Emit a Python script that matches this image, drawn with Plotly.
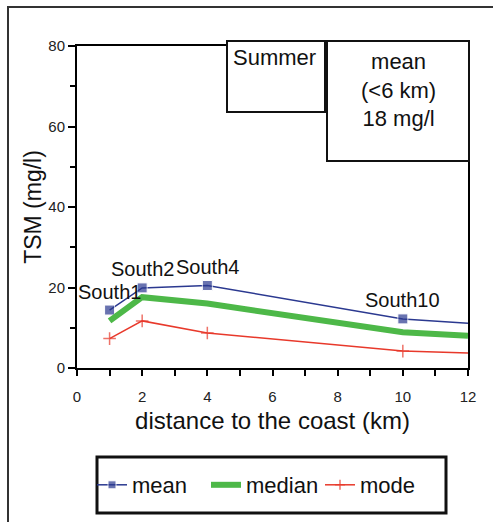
import plotly.graph_objects as go

# ---- data ----
distance = [1, 2, 4, 10, 12]
mean_vals = [14.4, 19.9, 20.5, 12.2, 11.1]
median_vals = [11.7, 17.6, 16.0, 8.9, 8.0]
mode_vals = [7.3, 11.7, 8.7, 4.2, 3.7]
station_x = [1, 2, 4, 10]
station_y = [14.4, 19.9, 20.5, 12.2]
station_labels = ["South1", "South2", "South4", "South10"]
x_ticks = [0, 2, 4, 6, 8, 10, 12]
y_ticks = [0, 20, 40, 60, 80]

W, H = 493, 522
L, R, T, B = 77, 25, 46, 154
PW, PH = W - L - R, H - T - B


def px(x):
    return (x - L) / PW


def py(y):
    return (H - B - y) / PH


FONT = "Liberation Sans, Arial, sans-serif"
BLUE = "#2B3990"
GREEN = "#4DB848"
RED = "#E8392B"

fig = go.Figure()
fig.add_trace(go.Scatter(
    x=distance, y=mean_vals, name="mean", mode="lines+markers",
    line=dict(color=BLUE, width=1.5),
    marker=dict(symbol="square", size=[10, 10, 10, 10, 0], color=BLUE),
))
fig.add_trace(go.Scatter(
    x=distance, y=median_vals, name="median", mode="lines",
    line=dict(color=GREEN, width=6),
))
fig.add_trace(go.Scatter(
    x=distance, y=mode_vals, name="mode", mode="lines+markers",
    line=dict(color=RED, width=1.5),
    marker=dict(symbol="cross-thin", size=[9, 9, 9, 9, 0],
                line=dict(color=RED, width=1.5)),
))

shifts = [(0, 18), (0, 19), (0, 18), (0, 19)]
for sx, sy, lab, (dx, dy) in zip(station_x, station_y, station_labels, shifts):
    fig.add_annotation(x=sx, y=sy, xref="x", yref="y", text=lab, showarrow=False,
                       xanchor="center", yanchor="middle", xshift=dx, yshift=dy,
                       font=dict(family=FONT, size=20, color="#111"))

shapes = [
    # outer frame
    dict(type="rect", xref="paper", yref="paper", x0=px(8), x1=px(530), y0=py(540), y1=py(7),
         line=dict(color="#333", width=2), fillcolor="rgba(0,0,0,0)", layer="below"),
    # Summer box
    dict(type="rect", xref="paper", yref="paper", x0=px(227), x1=px(325), y0=py(112), y1=py(41),
         line=dict(color="#111", width=2), fillcolor="white", layer="above"),
    # mean box
    dict(type="rect", xref="paper", yref="paper", x0=px(327), x1=px(469), y0=py(161), y1=py(41),
         line=dict(color="#111", width=2), fillcolor="white", layer="above"),
    # legend box
    dict(type="rect", xref="paper", yref="paper", x0=px(97), x1=px(446), y0=py(513), y1=py(457),
         line=dict(color="#111", width=3), fillcolor="rgba(0,0,0,0)", layer="above"),
]

fig.add_annotation(x=px(231), y=py(58), xref="paper", yref="paper", text="Summer",
                   showarrow=False, xanchor="left", yanchor="middle",
                   font=dict(family=FONT, size=22, color="#111"))
fig.add_annotation(x=px(398), y=py(90), xref="paper", yref="paper",
                   text="mean<br>(<6 km)<br>18 mg/l", showarrow=False,
                   xanchor="center", yanchor="middle", align="center",
                   font=dict(family=FONT, size=22, color="#111"))

fig.update_layout(
    width=W, height=H, margin=dict(l=L, r=R, t=T, b=B, autoexpand=False),
    paper_bgcolor="white", plot_bgcolor="white",
    shapes=shapes,
    showlegend=True,
    legend=dict(orientation="h", x=px(92), y=py(485), xanchor="left", yanchor="middle",
                font=dict(family=FONT, size=22, color="#111"), bgcolor="rgba(0,0,0,0)",
                entrywidth=69, entrywidthmode="pixels", itemwidth=30),
    xaxis=dict(range=[0, 12], tickvals=x_ticks, showline=True, linecolor="black", linewidth=2,
               mirror=True, ticks="outside", ticklen=6, tickwidth=2, tickcolor="black",
               minor=dict(dtick=1, ticks="outside", ticklen=6, tickwidth=2, tickcolor="black"),
               showgrid=False, zeroline=False, ticklabelstandoff=8,
               tickfont=dict(family=FONT, size=15, color="#222"),
               title=dict(text="distance to the coast (km)", standoff=8,
                          font=dict(family=FONT, size=24, color="#111"))),
    yaxis=dict(range=[0, 80], tickvals=y_ticks, showline=True, linecolor="black", linewidth=2,
               mirror=True, ticks="outside", ticklen=7, tickwidth=2, tickcolor="black",
               minor=dict(dtick=10, ticks="outside", ticklen=5, tickwidth=2, tickcolor="black"),
               showgrid=False, zeroline=False,
               tickfont=dict(family=FONT, size=15, color="#222"),
               title=dict(text="TSM (mg/l)", standoff=0,
                          font=dict(family=FONT, size=23, color="#111"))),
)

fig.write_html("out.html")
